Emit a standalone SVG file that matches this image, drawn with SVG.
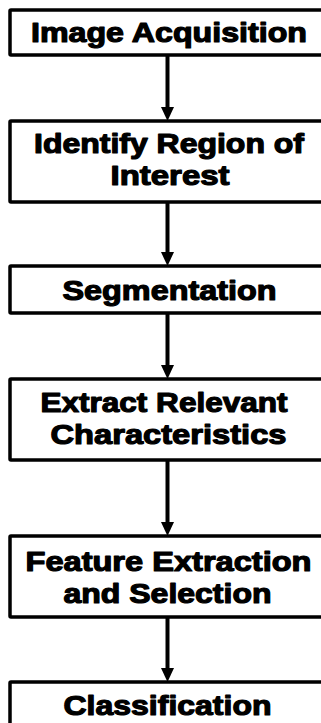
<svg xmlns="http://www.w3.org/2000/svg" width="321" height="723" viewBox="0 0 321 723">
  <style>
    .box { fill: #ffffff; stroke: #000000; stroke-width: 3.5; }
    .lbl { font-family: "Liberation Sans", Arial, sans-serif; font-weight: bold; font-size: 27.5px; fill: #000000; stroke: #000000; stroke-width: 1.2; stroke-linejoin: round; text-anchor: middle; }
    .wire { stroke: #000000; stroke-width: 4; fill: none; }
    .head { fill: #000000; }
  </style>
  <rect width="321" height="723" fill="#ffffff"/>

  <!-- connectors: vertical shafts with filled arrowheads -->
  <g id="connectors">
    <line class="wire" x1="167.5" y1="56" x2="167.5" y2="110"/>
    <polygon class="head" points="161,107 174,107 167.5,121"/>
    <line class="wire" x1="167.5" y1="202" x2="167.5" y2="255"/>
    <polygon class="head" points="161,252 174,252 167.5,266"/>
    <line class="wire" x1="167.5" y1="313" x2="167.5" y2="368"/>
    <polygon class="head" points="161,365 174,365 167.5,379"/>
    <line class="wire" x1="167.5" y1="460" x2="167.5" y2="525"/>
    <polygon class="head" points="161,522 174,522 167.5,536"/>
    <line class="wire" x1="167.5" y1="617" x2="167.5" y2="671"/>
    <polygon class="head" points="161,668 174,668 167.5,682"/>
  </g>

  <g id="image-acquisition">
    <rect class="box" x="10" y="10" width="330" height="45" rx="1"/>
    <text class="lbl" x="169" y="42" textLength="276" lengthAdjust="spacingAndGlyphs">Image Acquisition</text>
  </g>

  <g id="identify-roi">
    <rect class="box" x="10" y="121" width="330" height="81" rx="1"/>
    <text class="lbl" x="169" y="153" textLength="270" lengthAdjust="spacingAndGlyphs">Identify Region of</text>
    <text class="lbl" x="170" y="185" textLength="119" lengthAdjust="spacingAndGlyphs">Interest</text>
  </g>

  <g id="segmentation">
    <rect class="box" x="10" y="266" width="330" height="47" rx="1"/>
    <text class="lbl" x="169.5" y="300" textLength="214" lengthAdjust="spacingAndGlyphs">Segmentation</text>
  </g>

  <g id="extract-characteristics">
    <rect class="box" x="10" y="379" width="330" height="81" rx="1"/>
    <text class="lbl" x="164" y="412" textLength="247" lengthAdjust="spacingAndGlyphs">Extract Relevant</text>
    <text class="lbl" x="168.5" y="444" textLength="236" lengthAdjust="spacingAndGlyphs">Characteristics</text>
  </g>

  <g id="feature-extraction">
    <rect class="box" x="10" y="536" width="330" height="81" rx="1"/>
    <text class="lbl" x="168.5" y="571" textLength="286" lengthAdjust="spacingAndGlyphs">Feature Extraction</text>
    <text class="lbl" x="167.5" y="603" textLength="208" lengthAdjust="spacingAndGlyphs">and Selection</text>
  </g>

  <g id="classification">
    <rect class="box" x="10" y="682" width="330" height="60" rx="1"/>
    <text class="lbl" x="167.5" y="715" textLength="208" lengthAdjust="spacingAndGlyphs">Classification</text>
  </g>
</svg>
